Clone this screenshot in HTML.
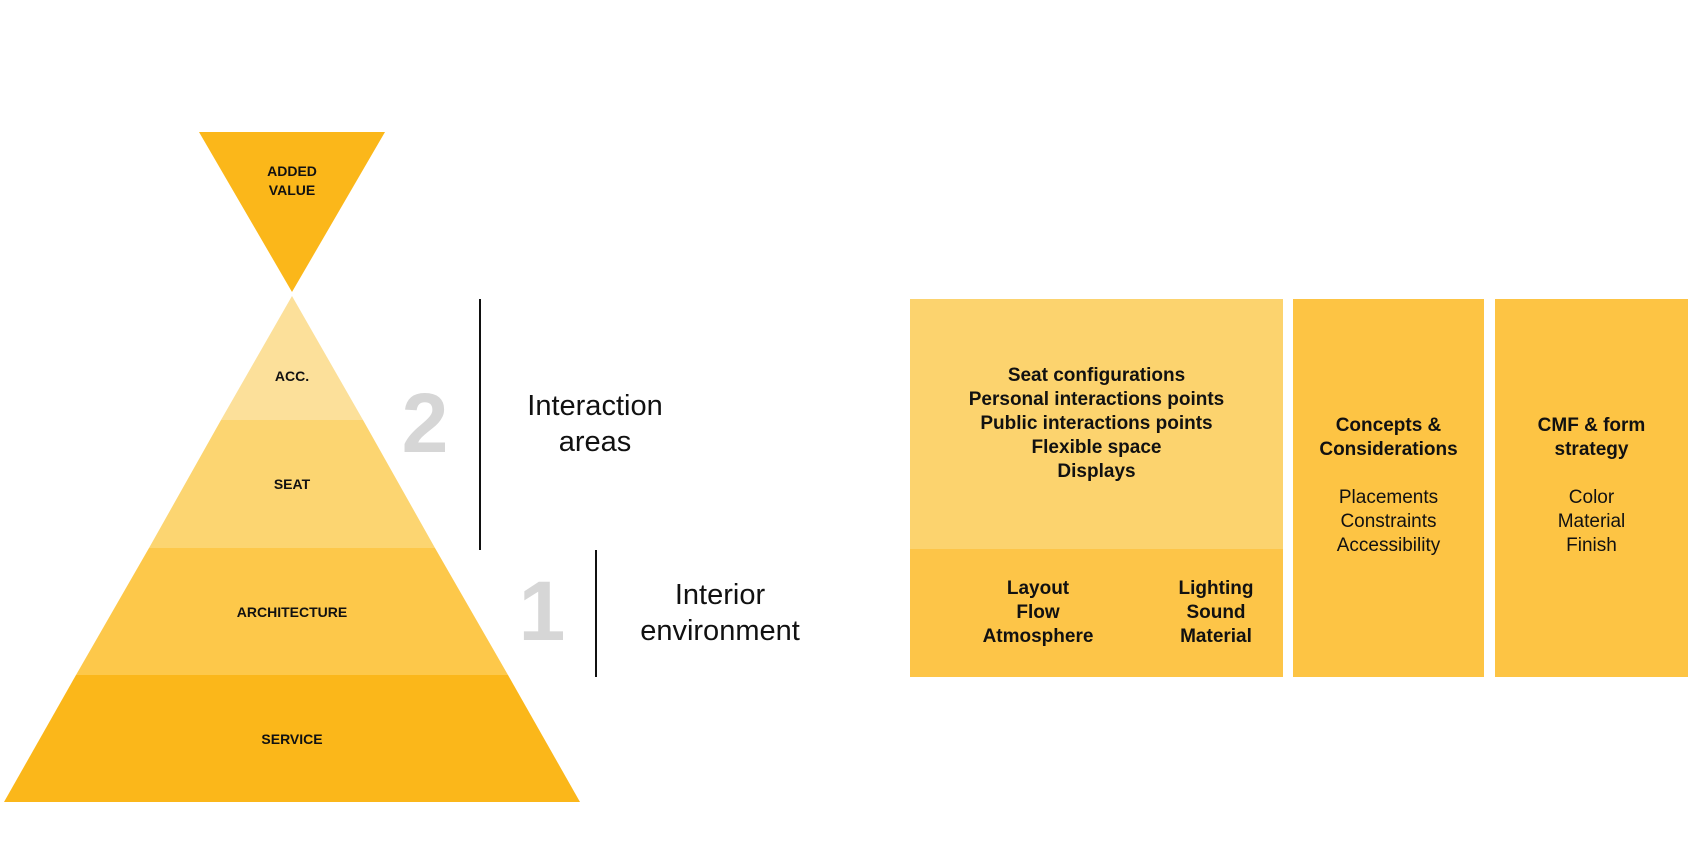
<!DOCTYPE html>
<html><head><meta charset="utf-8"><style>
body{margin:0;width:1690px;height:843px;background:#fff;overflow:hidden;font-family:"Liberation Sans",sans-serif;}
.t{position:absolute;text-align:center;white-space:nowrap;color:#111;}
</style></head><body>
<svg width="1690" height="843" style="position:absolute;left:0;top:0">
<polygon points="199,132 385,132 292,292" fill="#fbb71a"/>
<polygon points="292,296 363,420 221,420" fill="#fce09a"/>
<polygon points="221,420 363,420 435,548 149,548" fill="#fcd571"/>
<polygon points="149,548 435,548 508,675 76,675" fill="#fdc84a"/>
<polygon points="76,675 508,675 580,802 4,802" fill="#fbb71a"/>
<rect x="479" y="299" width="2" height="251" fill="#111"/>
<rect x="595" y="550" width="2" height="127" fill="#111"/>
<rect x="910" y="299" width="373" height="250" fill="#fcd36e"/>
<rect x="910" y="549" width="373" height="128" fill="#fdc548"/>
<rect x="1293" y="299" width="191" height="378" fill="#fdc444"/>
<rect x="1495" y="299" width="193" height="378" fill="#fdc444"/>
</svg>
<div class="t" style="left:242px;top:162px;width:100px;font-size:14px;font-weight:bold;line-height:19px">ADDED<br>VALUE</div>
<div class="t" style="left:242px;top:368px;width:100px;font-size:14px;font-weight:bold">ACC.</div>
<div class="t" style="left:242px;top:476px;width:100px;font-size:14px;font-weight:bold">SEAT</div>
<div class="t" style="left:192px;top:604px;width:200px;font-size:14px;font-weight:bold">ARCHITECTURE</div>
<div class="t" style="left:242px;top:731px;width:100px;font-size:14px;font-weight:bold">SERVICE</div>
<div class="t" style="left:395px;top:378px;width:60px;font-size:84px;font-weight:bold;color:#d6d6d6;line-height:90px">2</div>
<div class="t" style="left:512px;top:566px;width:60px;font-size:84px;font-weight:bold;color:#d6d6d6;line-height:90px">1</div>
<div class="t" style="left:495px;top:388px;width:200px;font-size:29px;line-height:36px">Interaction<br>areas</div>
<div class="t" style="left:610px;top:577px;width:220px;font-size:29px;line-height:36px">Interior<br>environment</div>
<div class="t" style="left:910px;top:364px;width:373px;font-size:19px;font-weight:bold;line-height:24px">Seat configurations<br>Personal interactions points<br>Public interactions points<br>Flexible space<br>Displays</div>
<div class="t" style="left:958px;top:577px;width:160px;font-size:19px;font-weight:bold;line-height:24px">Layout<br>Flow<br>Atmosphere</div>
<div class="t" style="left:1136px;top:577px;width:160px;font-size:19px;font-weight:bold;line-height:24px">Lighting<br>Sound<br>Material</div>
<div class="t" style="left:1293px;top:414px;width:191px;font-size:19px;font-weight:bold;line-height:24px">Concepts &amp;<br>Considerations</div>
<div class="t" style="left:1293px;top:486px;width:191px;font-size:19px;line-height:24px">Placements<br>Constraints<br>Accessibility</div>
<div class="t" style="left:1495px;top:414px;width:193px;font-size:19px;font-weight:bold;line-height:24px">CMF &amp; form<br>strategy</div>
<div class="t" style="left:1495px;top:486px;width:193px;font-size:19px;line-height:24px">Color<br>Material<br>Finish</div>
</body></html>
